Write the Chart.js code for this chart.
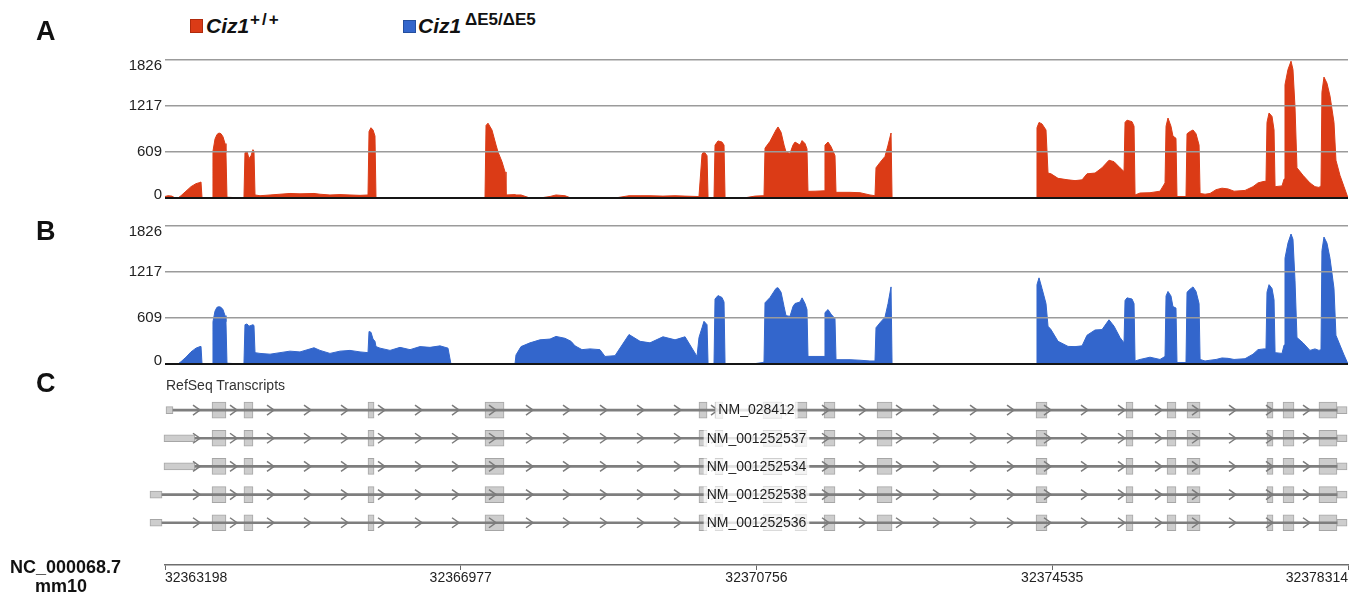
<!DOCTYPE html>
<html>
<head>
<meta charset="utf-8">
<script src="https://cdn.jsdelivr.net/npm/chart.js@4.4.1/dist/chart.umd.min.js"></script>
<style>
  html,body{margin:0;padding:0;background:#fff;}
  body{width:1363px;height:599px;overflow:hidden;position:relative;font-family:"Liberation Sans",Arial,sans-serif;color:#111;}
  canvas{position:absolute;left:0;}
  .t{position:absolute;white-space:nowrap;line-height:1;}
  .sq{position:absolute;box-sizing:border-box;}
</style>
</head>
<body>
<canvas id="trackA" width="1363" height="170" style="top:40px"></canvas>
<canvas id="trackB" width="1363" height="170" style="top:206px"></canvas>
<canvas id="trackC" width="1363" height="223" style="top:376px"></canvas>

<div class="t" style="left:36px;top:18px;font-weight:bold;font-size:27px;">A</div>
<div class="t" style="left:36px;top:218px;font-weight:bold;font-size:27px;">B</div>
<div class="t" style="left:36px;top:370px;font-weight:bold;font-size:27px;">C</div>

<div class="sq" style="left:190px;top:19px;width:13px;height:14px;background:#db3b16;border:1px solid #b02a0c;"></div>
<div class="t" style="left:206px;top:15px;font-weight:bold;font-style:italic;font-size:21px;">Ciz1</div>
<div class="t" style="left:250px;top:11px;font-weight:bold;font-size:17px;letter-spacing:2px;">+/+</div>

<div class="sq" style="left:403px;top:20px;width:13px;height:13px;background:#3366cc;border:1px solid #244f9e;"></div>
<div class="t" style="left:418px;top:15px;font-weight:bold;font-style:italic;font-size:21px;">Ciz1</div>
<div class="t" style="left:465px;top:11px;font-weight:bold;font-size:17px;">ΔE5/ΔE5</div>

<div class="t" style="left:166px;top:378px;font-size:14px;color:#333;">RefSeq Transcripts</div>
<div class="t" style="left:10px;top:558px;font-weight:bold;font-size:18px;">NC_000068.7</div>
<div class="t" style="left:35px;top:577px;font-weight:bold;font-size:18px;">mm10</div>

<script>
// ---------------- data ----------------
const regionStart = 32363198;
const tickLabels = ['32363198', '32366977', '32370756', '32374535', '32378314'];
const yTicks = [0, 609, 1217, 1826];

// sampling positions (bp offset from regionStart)
const pos = [0,38,89,128,166,204,268,332,396,447,460,473,601,613,639,664,690,716,741,767,779,792,894,1009,1022,1048,1073,1099,1124,1137,1150,1214,1342,1469,1597,1725,1904,1981,2108,2236,2364,2492,2594,2607,2632,2658,2683,2696,2747,2875,3003,3131,3258,3386,3514,3616,3654,4089,4102,4127,4178,4230,4255,4306,4345,4357,4472,4485,4549,4664,4792,4920,4996,5111,5188,5239,5328,5431,5558,5622,5750,5929,6070,6197,6363,6517,6645,6798,6823,6862,6887,6926,6939,7015,7028,7066,7117,7143,7156,7424,7539,7641,7654,7667,7731,7807,7833,7872,7910,7935,7986,8024,8050,8114,8140,8178,8203,8216,8306,8421,8433,8472,8510,8561,8574,8753,8881,9008,9072,9085,9136,9200,9239,9277,9290,11130,11142,11168,11206,11257,11283,11321,11411,11539,11628,11718,11781,11884,11973,12062,12127,12203,12254,12267,12292,12356,12382,12395,12459,12586,12714,12778,12791,12816,12854,12879,12918,12931,13046,13059,13098,13136,13174,13213,13226,13289,13353,13430,13506,13583,13660,13800,13902,13966,14043,14068,14081,14107,14145,14171,14184,14273,14299,14311,14349,14388,14413,14439,14464,14541,14630,14694,14745,14771,14783,14809,14847,14886,14937,14962,15013,15065,15116];

// Ciz1 +/+ coverage
const wt = [20,30,25,0,0,30,90,150,190,205,212,0,0,620,780,840,860,850,810,720,600,10,5,5,600,620,520,560,640,620,40,30,40,50,60,55,60,50,40,45,40,35,40,880,930,900,820,0,0,0,0,0,0,0,0,0,0,0,960,990,900,700,609,480,345,40,45,40,40,0,0,20,40,30,0,0,0,0,0,0,0,30,30,30,25,30,25,20,20,580,615,560,0,0,700,755,740,700,5,5,25,30,30,660,750,900,940,870,700,610,590,700,740,700,760,720,650,88,90,95,700,740,680,560,75,75,70,40,30,400,470,550,700,860,0,0,930,1000,980,900,330,320,260,240,230,240,320,330,400,500,480,400,350,1000,1030,1010,950,40,66,70,90,200,950,1058,950,820,790,20,20,850,880,900,850,700,60,50,60,110,130,120,90,100,150,200,220,220,1000,1125,1080,900,150,160,250,1500,1700,1810,1700,1200,400,300,200,150,140,160,1400,1600,1520,1350,1000,500,300,150,0];

// Ciz1 dE5/dE5 coverage
const ko = [0,0,0,0,0,30,90,160,210,230,233,0,0,560,700,750,758,750,720,640,560,10,5,5,520,530,500,510,520,510,150,140,130,150,170,160,215,180,140,170,180,160,150,430,420,330,300,230,210,180,220,190,230,220,240,210,0,0,0,0,0,0,0,0,0,0,0,120,230,280,320,330,365,340,300,240,190,200,190,100,110,390,300,280,360,320,360,100,350,480,565,520,0,0,860,905,880,820,5,5,5,20,30,810,880,1000,1010,950,760,640,630,760,800,820,875,800,720,100,100,100,680,720,660,600,57,57,50,40,40,480,545,620,800,1020,0,0,1050,1140,1000,800,500,455,300,233,230,240,380,450,455,585,500,350,280,840,875,860,800,40,60,90,60,100,900,960,900,760,740,20,20,950,990,1020,960,800,60,40,50,60,80,75,60,70,130,190,200,200,950,1050,1000,850,150,140,250,1400,1600,1720,1650,1100,350,280,180,200,180,190,1500,1680,1600,1400,1000,380,250,120,0];

// RefSeq transcripts (bp offsets from regionStart)
const transcripts = ['NM_028412', 'NM_001252537', 'NM_001252534', 'NM_001252538', 'NM_001252536'];
const utr5Start = [13, -13, -13, -192, -192];
const utr5End   = [102, 383, 383, -38, -38];
const exonStart = [601, 1009, 2594, 4089, 6823, 7028, 7641, 8050, 8421, 9098, 11130, 12280, 12804, 13059, 14081, 14286, 14745];
const exonEnd   = [779, 1124, 2671, 4332, 6926, 7130, 7884, 8203, 8561, 9290, 11270, 12369, 12918, 13226, 14158, 14426, 14975];
const utr3Start = 14975;
const utr3End   = 15104;

// ---------------- charts ----------------
Chart.defaults.font.family = '"Liberation Sans", Arial, sans-serif';
const xMin = Number(tickLabels[0]);
const xMax = Number(tickLabels[tickLabels.length - 1]);

const yLabelPlugin = {
  id: 'yLabels',
  afterDraw(chart) {
    const s = chart.scales.y, ctx = chart.ctx;
    ctx.save();
    ctx.font = '15px "Liberation Sans", Arial, sans-serif';
    ctx.fillStyle = '#222';
    ctx.textAlign = 'right';
    ctx.textBaseline = 'middle';
    const top = yTicks[yTicks.length - 1];
    yTicks.forEach(v => {
      let y = s.getPixelForValue(v);
      if (v === top) y += 6;
      else if (v === 0) y -= 3;
      ctx.fillText(String(v), chart.chartArea.left - 3, y);
    });
    ctx.restore();
  }
};

function trackChart(id, values, color) {
  return new Chart(document.getElementById(id), {
    type: 'line',
    data: {
      datasets: [{
        data: pos.map((p, i) => ({ x: regionStart + p, y: values[i] })),
        borderColor: color,
        backgroundColor: color,
        borderWidth: 1,
        pointRadius: 0,
        tension: 0,
        fill: 'origin'
      }]
    },
    options: {
      responsive: false,
      animation: false,
      events: [],
      layout: { padding: { top: 20, bottom: 12, left: 0, right: 15 } },
      plugins: { legend: { display: false }, tooltip: { enabled: false } },
      scales: {
        x: { type: 'linear', display: false, min: xMin, max: xMax },
        y: {
          min: 0, max: yTicks[yTicks.length - 1],
          afterFit(s) { s.width = 165; },
          afterBuildTicks(s) { s.ticks = yTicks.map(v => ({ value: v })); },
          ticks: { display: false },
          border: { display: false },
          grid: {
            z: 1,
            drawTicks: false,
            color: c => (c.tick && c.tick.value === 0) ? '#151515' : '#9b9b9b',
            lineWidth: c => (c.tick && c.tick.value === 0) ? 2 : 1.5
          }
        }
      }
    },
    plugins: [yLabelPlugin]
  });
}

trackChart('trackA', wt, '#db3b16');
trackChart('trackB', ko, '#3366cc');

// transcripts track
const rows = transcripts.map((t, i) => i);
const intronData = rows.map(i => ({ x: [regionStart + utr5End[i], regionStart + utr3Start], y: i }));
const utrData = [];
rows.forEach(i => {
  utrData.push({ x: [regionStart + utr5Start[i], regionStart + utr5End[i]], y: i });
  utrData.push({ x: [regionStart + utr3Start, regionStart + utr3End], y: i });
});
const exonData = [];
rows.forEach(i => exonStart.forEach((s, k) => exonData.push({ x: [regionStart + s, regionStart + exonEnd[k]], y: i })));

const txPlugin = {
  id: 'txDecor',
  afterDatasetsDraw(chart) {
    const ctx = chart.ctx, xs = chart.scales.x, ys = chart.scales.y, ca = chart.chartArea;
    const cx = (ca.left + ca.right) / 2;
    ctx.save();
    ctx.font = '14px "Liberation Sans", Arial, sans-serif';
    rows.forEach(i => {
      const y = ys.getPixelForValue(i);
      const x0 = xs.getPixelForValue(regionStart + utr5Start[i]);
      const x1 = xs.getPixelForValue(regionStart + utr3Start);
      // strand chevrons
      ctx.strokeStyle = '#7b7b7b';
      ctx.lineWidth = 1.5;
      for (let x = ca.left - 2 + 37; x < x1 - 4; x += 37) {
        if (x < x0 + 20) continue;
        ctx.beginPath();
        ctx.moveTo(x - 7, y - 5);
        ctx.lineTo(x, y);
        ctx.lineTo(x - 7, y + 5);
        ctx.stroke();
      }
      // transcript label
      const label = transcripts[i];
      const w = ctx.measureText(label).width;
      ctx.fillStyle = 'rgba(255,255,255,0.78)';
      ctx.fillRect(cx - w / 2 - 3, y - 8, w + 6, 16);
      ctx.fillStyle = '#1e1e1e';
      ctx.textAlign = 'center';
      ctx.textBaseline = 'middle';
      ctx.fillText(label, cx, y + 0.5);
    });
    ctx.restore();
  }
};

new Chart(document.getElementById('trackC'), {
  type: 'bar',
  data: {
    datasets: [
      { data: intronData, backgroundColor: '#7e7e7e', borderWidth: 0, barThickness: 2, grouped: false, clip: false },
      { data: utrData, backgroundColor: '#cdcdcd', borderColor: '#a6a6a6', borderWidth: 1, borderSkipped: false, barThickness: 7, grouped: false, clip: false },
      { data: exonData, backgroundColor: '#cdcdcd', borderColor: '#a6a6a6', borderWidth: 1, borderSkipped: false, barThickness: 16, grouped: false, clip: false }
    ]
  },
  options: {
    indexAxis: 'y',
    responsive: false,
    animation: false,
    events: [],
    layout: { padding: { top: 20, bottom: 0, left: 0, right: 15 } },
    plugins: { legend: { display: false }, tooltip: { enabled: false } },
    scales: {
      x: {
        type: 'linear', min: xMin, max: xMax,
        afterBuildTicks(s) { s.ticks = tickLabels.map(l => ({ value: Number(l) })); },
        afterFit(s) { s.height = 34; },
        ticks: {
          autoSkip: false, maxRotation: 0, align: 'inner', padding: 0,
          color: '#222', font: { size: 14 },
          callback: (v, idx) => tickLabels[idx]
        },
        grid: { drawOnChartArea: false, drawTicks: true, tickLength: 5, color: '#666', lineWidth: 1 },
        border: { display: true, color: '#6e6e6e', width: 1.5 }
      },
      y: {
        type: 'linear', min: -0.5, max: 5.5, reverse: true, offset: false, display: false,
        afterFit(s) { s.width = 165; }
      }
    }
  },
  plugins: [txPlugin]
});
</script>
</body>
</html>
